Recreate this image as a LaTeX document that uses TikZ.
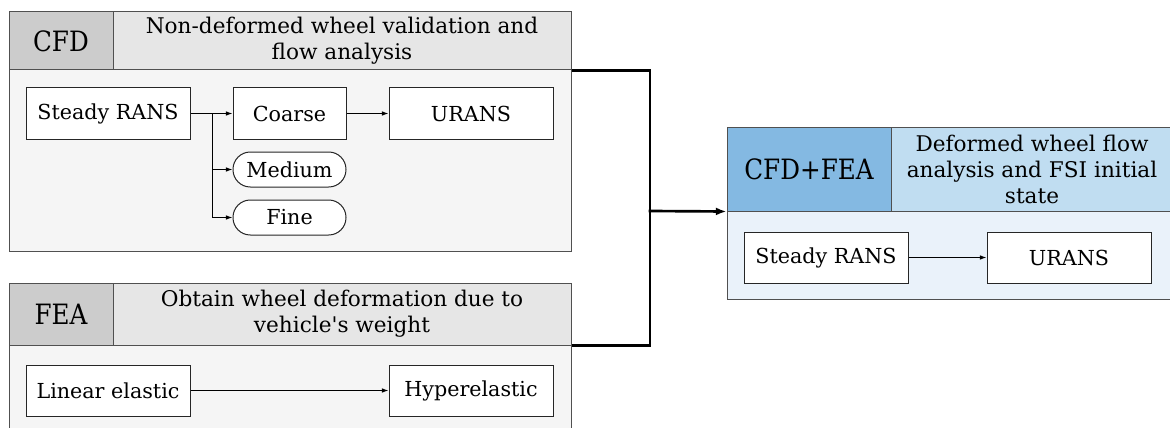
\documentclass[tikz,border=0pt]{standalone}
\usepackage{fontspec}
\setmainfont{DejaVu Serif}[Ligatures=TeXOff]
\newfontfamily\bigserif{DejaVu Serif}[Ligatures=TeXOff,FakeStretch=0.88]
\usetikzlibrary{arrows.meta}
\definecolor{grpdark}{RGB}{204,204,204}
\definecolor{grplight}{RGB}{230,230,230}
\definecolor{grpbody}{RGB}{245,245,245}
\definecolor{bluedark}{RGB}{132,185,226}
\definecolor{bluelight}{RGB}{192,221,241}
\definecolor{bluebody}{RGB}{234,242,250}
\definecolor{frame}{RGB}{80,80,80}
\tikzset{
  bodyfont/.style={font=\fontsize{15.5}{19.5}\selectfont},
  titlefont/.style={font=\fontsize{16.2}{19.5}\selectfont},
  bigfont/.style={font=\bigserif\fontsize{21}{24}\selectfont},
  stepbox/.style={draw=black!85, line width=0.75pt, fill=white, bodyfont, inner sep=0pt,
                  minimum width=123pt, minimum height=38.25pt},
  smallbox/.style={stepbox, minimum width=84.75pt},
  pill/.style={draw=black!85, line width=0.75pt, fill=white, bodyfont, inner sep=0pt,
               rounded corners=13pt, minimum width=84.75pt, minimum height=26.25pt},
  cell/.style={draw=frame, line width=0.75pt, inner sep=0pt, align=center},
  groupbody/.style={draw=frame, line width=0.75pt, inner sep=0pt},
  flow/.style={line width=0.75pt, -{Latex[length=5pt,width=3.5pt]}},
  thickflow/.style={line width=2pt},
}
\begin{document}
\begin{tikzpicture}[x=0.75pt,y=-0.75pt]
\useasboundingbox (0,0) rectangle (1170,428);
\begin{scope}
\clip (0,0) rectangle (1170,428);
% ---------- CFD group ----------
\node[groupbody, fill=grpbody, minimum width=421.5pt, minimum height=135.75pt] (cfdbody) at (290,160.5) {};
\node[cell, fill=grpdark, bigfont, minimum width=78pt, minimum height=43.5pt] (cfdlabel) at (61,41) {CFD};
\node[cell, fill=grplight, titlefont, minimum width=343.5pt, minimum height=43.5pt] (cfdtitle) at (342,41) {Non-deformed wheel validation and\\flow analysis};
\node[stepbox] (rans1) at (108,113.5) {Steady RANS};
\node[smallbox] (coarse) at (289.5,113.5) {Coarse};
\node[stepbox] (urans1) at (471,113.5) {URANS};
\node[pill] (medium) at (289.5,169.5) {Medium};
\node[pill] (fine) at (289.5,217.5) {Fine};
\coordinate (branch) at (212,113.5);
\draw[flow] (rans1.east) -- (coarse.west);
\draw[line width=0.75pt] (branch) -- (branch |- fine.west);
\draw[flow] (branch |- medium.west) -- (medium.west);
\draw[flow] (branch |- fine.west) -- (fine.west);
\draw[flow] (coarse.east) -- (urans1.west);
% ---------- FEA group ----------
\node[groupbody, fill=grpbody, minimum width=421.5pt, minimum height=120pt] (feabody) at (290,425) {};
\node[cell, fill=grpdark, bigfont, minimum width=78pt, minimum height=46.5pt] (fealabel) at (61,314) {FEA};
\node[cell, fill=grplight, titlefont, minimum width=343.5pt, minimum height=46.5pt] (featitle) at (342,314) {Obtain wheel deformation due to\\vehicle's weight};
\node[stepbox] (linear) at (108,390.5) {Linear elastic};
\node[stepbox] (hyper) at (471,390.5) {Hyperelastic};
\draw[flow] (linear.east) -- (hyper.west);
% ---------- CFD+FEA group ----------
\node[groupbody, fill=bluebody, minimum width=334.5pt, minimum height=66pt] (mixbody) at (950,255) {};
\node[cell, fill=bluedark, bigfont, minimum width=123pt, minimum height=63pt] (mixlabel) at (809,169) {CFD+FEA};
\node[cell, fill=bluelight, titlefont, minimum width=211.5pt, minimum height=63pt] (mixtitle) at (1032,169) {Deformed wheel flow\\analysis and FSI initial\\state};
\node[stepbox] (rans2) at (826,257.5) {Steady RANS};
\node[stepbox] (urans2) at (1069,257.5) {URANS};
\draw[flow] (rans2.east) -- (urans2.west);
% ---------- joining connectors ----------
\coordinate (join) at (650,211);
\draw[thickflow] (cfdtitle.south east) -| (join) |- (featitle.south east);
\draw[thickflow, shorten <=-1pt, -{Latex[length=8pt,width=6pt]}] (join) -- (mixlabel.south west);
\end{scope}
\end{tikzpicture}
\end{document}
